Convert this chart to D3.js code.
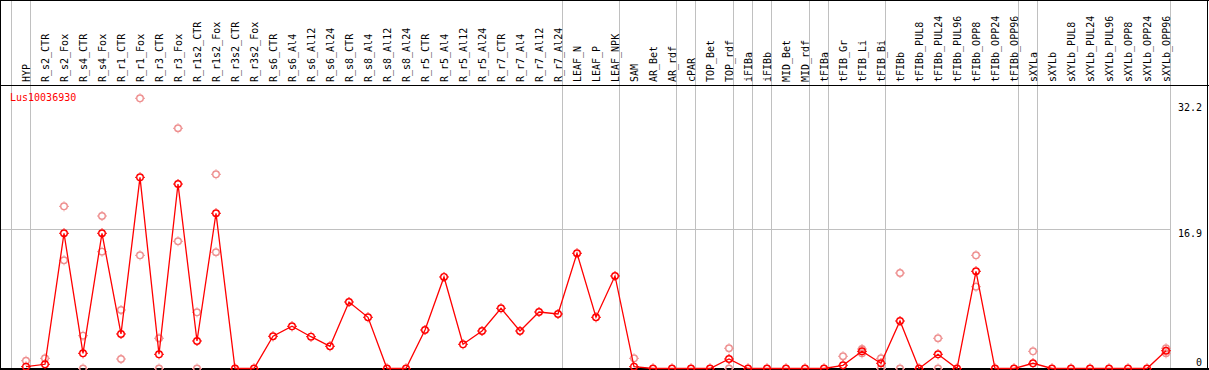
<!DOCTYPE html>
<html><head><meta charset="utf-8">
<script src="https://cdn.jsdelivr.net/npm/d3@7"></script>
<style>body{margin:0;background:#fff;overflow:hidden}svg{display:block}</style>
</head><body><svg id="c" width="1209" height="370"></svg>
<script>
const geneId = "Lus10036930";
const categories = ["HYP","R_s2_CTR","R_s2_Fox","R_s4_CTR","R_s4_Fox","R_r1_CTR","R_r1_Fox","R_r3_CTR","R_r3_Fox","R_r1s2_CTR","R_r1s2_Fox","R_r3s2_CTR","R_r3s2_Fox","R_s6_CTR","R_s6_Al4","R_s6_Al12","R_s6_Al24","R_s8_CTR","R_s8_Al4","R_s8_Al12","R_s8_Al24","R_r5_CTR","R_r5_Al4","R_r5_Al12","R_r5_Al24","R_r7_CTR","R_r7_Al4","R_r7_Al12","R_r7_Al24","LEAF_N","LEAF_P","LEAF_NPK","SAM","AR_Bet","AR_rdf","cPAR","TOP_Bet","TOP_rdf","iFIBa","iFIBb","MID_Bet","MID_rdf","tFIBa","tFIB_Gr","tFIB_Li","tFIB_Bi","tFIBb","tFIBb_PUL8","tFIBb_PUL24","tFIBb_PUL96","tFIBb_OPP8","tFIBb_OPP24","tFIBb_OPP96","sXYLa","sXYLb","sXYLb_PUL8","sXYLb_PUL24","sXYLb_PUL96","sXYLb_OPP8","sXYLb_OPP24","sXYLb_OPP96"];
// mean expression per sample
const means = [0.22,0.51,16.37,1.84,16.37,4.18,23.14,1.72,22.33,3.33,18.79,0,0,3.90,5.11,3.85,2.69,8.05,6.20,0,0,4.66,11.08,2.93,4.54,7.29,4.54,6.84,6.60,13.95,6.20,11.20,0.22,0,0,0,0,1.15,0,0,0,0,0,0.39,2.08,0.63,5.75,0,1.72,0,11.77,0,0,0.63,0,0,0,0,0,0,2.15];
// replicate values (null = not shown)
const rep1 = [0.94,1.23,19.63,3.97,18.46,7.08,32.71,3.66,29.08,6.80,23.51,null,null,null,null,null,null,null,null,null,null,null,null,null,null,null,null,null,null,null,null,null,1.23,null,null,null,null,2.45,null,null,null,null,null,1.48,2.36,1.23,11.56,null,3.66,null,13.70,null,null,2.08,null,null,null,null,null,null,2.45];
const rep2 = [null,null,13.10,0,14.14,1.15,13.70,0,15.40,0,14.07,null,null,null,null,null,null,null,null,null,null,null,null,null,null,null,null,null,null,null,null,null,null,null,null,null,null,0,null,null,null,null,null,null,1.84,0,0,null,0,null,9.90,null,null,null,null,null,null,null,null,null,1.84];
// group separators (number of columns before each line)
const separators = [0,1,29,32,35,36,38,39,40,42,43,46,53,54,61];
const yTicks = [0,16.9,32.2];
const yTickLabels = ["0","16.9","32.2"];

const W = 1209, H = 370;
const svg = d3.select("#c");
const font = "'DejaVu Sans Mono', 'Liberation Mono', monospace";

const xb = d3.scaleLinear().domain([0, categories.length]).range([11, 1170]);
const xp = i => xb(i) + 15;
const y = d3.scaleLinear().domain([0, 32.2]).range([368.5, 102.5]);

// separators
svg.append("g").selectAll("line").data(separators).join("line")
  .attr("x1", d => Math.round(xb(d)) + 0.5).attr("x2", d => Math.round(xb(d)) + 0.5)
  .attr("y1", 0).attr("y2", H)
  .attr("stroke", "#c0c0c0").attr("stroke-width", 1);

// horizontal gridline at 16.9
svg.append("line")
  .attr("x1", 0).attr("x2", 1170).attr("y1", Math.round(y(16.9)) + 0.5).attr("y2", Math.round(y(16.9)) + 0.5)
  .attr("stroke", "#c0c0c0").attr("stroke-width", 1);

// frame
svg.append("line").attr("x1",0).attr("x2",W).attr("y1",0.5).attr("y2",0.5).attr("stroke","#000");
svg.append("line").attr("x1",0.5).attr("x2",0.5).attr("y1",0).attr("y2",H).attr("stroke","#000");
svg.append("line").attr("x1",W-1.5).attr("x2",W-1.5).attr("y1",0).attr("y2",H).attr("stroke","#000");
svg.append("line").attr("x1",0).attr("x2",W).attr("y1",85.5).attr("y2",85.5).attr("stroke","#000");
svg.append("line").attr("x1",0).attr("x2",W).attr("y1",369).attr("y2",369).attr("stroke","#000").attr("stroke-width",2);

// column labels
svg.append("g").selectAll("text").data(categories).join("text")
  .attr("transform", (d, i) => `translate(${xp(i) + 4},82) rotate(-90)`)
  .attr("font-family", font).attr("font-size", 10).attr("fill", "#000")
  .text(d => d);

// y labels on right
svg.append("g").selectAll("text").data(yTicks).join("text")
  .attr("x", 1202).attr("y", (d, i) => i === 0 ? y(d) - 3 : y(d) + 8)
  .attr("text-anchor", "end")
  .attr("font-family", font).attr("font-size", 10).attr("fill", "#000")
  .text((d, i) => yTickLabels[i]);

// gene label
svg.append("text").attr("x", 10).attr("y", 101)
  .attr("font-family", font).attr("font-size", 10).attr("fill", "#ff0000")
  .text(geneId);

function marker(g, color) {
  g.append("circle").attr("r", 3.3).attr("fill", "none").attr("stroke", color).attr("stroke-width", 1.4);
  [[0,-1],[0,1],[-1,0],[1,0]].forEach(([dx,dy]) => {
    g.append("line").attr("x1", dx*4).attr("y1", dy*4).attr("x2", dx*5).attr("y2", dy*5)
      .attr("stroke", color).attr("stroke-width", 1);
  });
}

// replicates
const reps = [];
categories.forEach((c, i) => {
  if (rep1[i] !== null) reps.push({i, v: rep1[i]});
  if (rep2[i] !== null) reps.push({i, v: rep2[i]});
});
svg.append("g").selectAll("g").data(reps).join("g")
  .attr("transform", d => `translate(${xp(d.i)},${y(d.v)})`)
  .each(function() { marker(d3.select(this), "#ee9090"); });

// mean line
const line = d3.line().x((d, i) => xp(i)).y(d => y(d));
svg.append("path").datum(means).attr("d", line)
  .attr("fill", "none").attr("stroke", "#ff0000").attr("stroke-width", 1.3);

// mean markers
svg.append("g").selectAll("g").data(means).join("g")
  .attr("transform", (d, i) => `translate(${xp(i)},${y(d)})`)
  .each(function() { marker(d3.select(this), "#ff0000"); });
</script></body></html>
